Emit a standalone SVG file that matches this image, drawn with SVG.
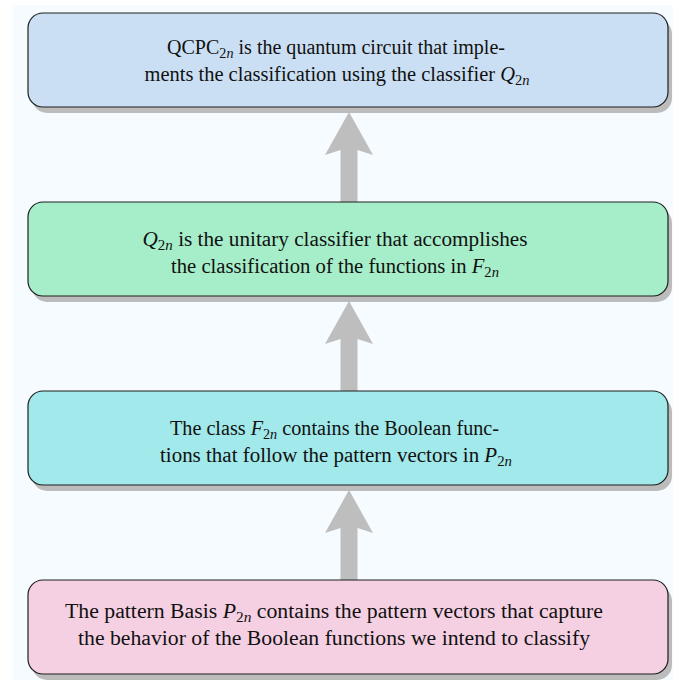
<svg xmlns="http://www.w3.org/2000/svg" width="673" height="680" viewBox="0 0 673 680">
<style>
.bg{fill:#f6fbff}
.shadow{fill:#bcbcbc}
.box{stroke:#1e1e1e;stroke-width:1.2}
.arrow{fill:#bebebe}
.t{font-family:"Liberation Serif","DejaVu Serif",serif;font-size:20.5px;fill:#111;text-anchor:middle}
.i{font-style:italic}
.s{font-size:14.5px}
</style>
<rect class="bg" x="13" y="5" width="660" height="675"/>
<g id="connectors">
<polygon class="arrow" points="349,112 373,155 357.5,150 357.5,202 340.5,202 340.5,150 325,155"/>
<polygon class="arrow" points="349,301 373,344 357.5,339 357.5,391 340.5,391 340.5,339 325,344"/>
<polygon class="arrow" points="349,490 373,533 357.5,528 357.5,580 340.5,580 340.5,528 325,533"/>
</g>
<g id="node-qcpc">
<rect class="shadow" x="32" y="19" width="640" height="94" rx="15"/>
<rect class="box" x="28" y="13" width="640" height="94" rx="15" fill="#cadff3"/>
<text class="t" x="336" y="54" textLength="338" lengthAdjust="spacingAndGlyphs">QCPC<tspan class="s" dy="4">2</tspan><tspan class="s i">n</tspan><tspan dy="-4"> is the quantum circuit that imple-</tspan></text>
<text class="t" x="337" y="81" textLength="385" lengthAdjust="spacingAndGlyphs">ments the classification using the classifier <tspan class="i">Q</tspan><tspan class="s" dy="4">2</tspan><tspan class="s i">n</tspan></text>
</g>
<g id="node-q">
<rect class="shadow" x="32" y="208" width="640" height="94" rx="15"/>
<rect class="box" x="28" y="202" width="640" height="94" rx="15" fill="#a6edc9"/>
<text class="t" x="335" y="246" textLength="385" lengthAdjust="spacingAndGlyphs"><tspan class="i">Q</tspan><tspan class="s" dy="4">2</tspan><tspan class="s i">n</tspan><tspan dy="-4"> is the unitary classifier that accomplishes</tspan></text>
<text class="t" x="335" y="273" textLength="328" lengthAdjust="spacingAndGlyphs">the classification of the functions in <tspan class="i">F</tspan><tspan class="s" dy="4">2</tspan><tspan class="s i">n</tspan></text>
</g>
<g id="node-f">
<rect class="shadow" x="32" y="397" width="640" height="94" rx="15"/>
<rect class="box" x="28" y="391" width="640" height="94" rx="15" fill="#a1e9ea"/>
<text class="t" x="334.5" y="435" textLength="329" lengthAdjust="spacingAndGlyphs">The class <tspan class="i">F</tspan><tspan class="s" dy="4">2</tspan><tspan class="s i">n</tspan><tspan dy="-4"> contains the Boolean func-</tspan></text>
<text class="t" x="336" y="462" textLength="352" lengthAdjust="spacingAndGlyphs">tions that follow the pattern vectors in <tspan class="i">P</tspan><tspan class="s" dy="4">2</tspan><tspan class="s i">n</tspan></text>
</g>
<g id="node-p">
<rect class="shadow" x="32" y="586" width="640" height="94" rx="15"/>
<rect class="box" x="28" y="580" width="640" height="94" rx="15" fill="#f5d0e3"/>
<text class="t" x="334" y="618" textLength="538" lengthAdjust="spacingAndGlyphs">The pattern Basis <tspan class="i">P</tspan><tspan class="s" dy="4">2</tspan><tspan class="s i">n</tspan><tspan dy="-4"> contains the pattern vectors that capture</tspan></text>
<text class="t" x="334" y="645" textLength="512" lengthAdjust="spacingAndGlyphs">the behavior of the Boolean functions we intend to classify</text>
</g>
</svg>
